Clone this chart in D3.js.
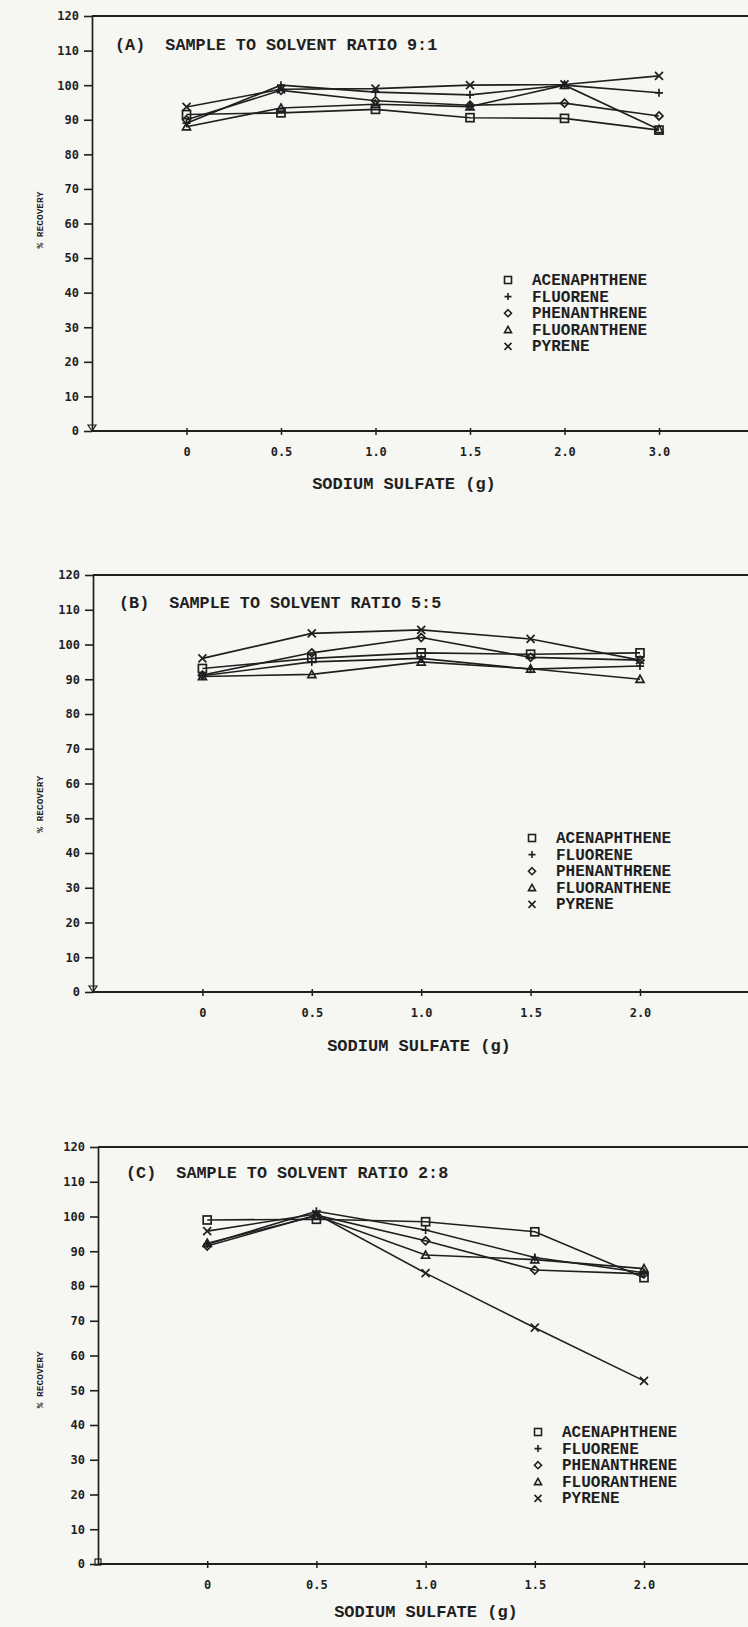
<!DOCTYPE html>
<html>
<head>
<meta charset="utf-8">
<script src="https://cdn.jsdelivr.net/npm/d3@7"></script>
<style>
body { margin: 0; background: #f6f6f3; }
svg { display: block; }
</style>
</head>
<body>
<svg id="chart" width="748" height="1627"></svg>
<script>
// compounds, in legend order, and the marker each one uses
var seriesNames = ['ACENAPHTHENE', 'FLUORENE', 'PHENANTHRENE', 'FLUORANTHENE', 'PYRENE'];
var seriesMarkers = ['square', 'plus', 'diamond', 'triangle', 'cross'];

var yTicks = [0, 10, 20, 30, 40, 50, 60, 70, 80, 90, 100, 110, 120];

// (A) sample to solvent 9:1
var ticksA = ['0', '0.5', '1.0', '1.5', '2.0', '3.0'];
var valuesA = [
    [91.5, 92.0, 93.0, 90.6, 90.4, 87.0],
    [89.0, 100.0, 98.0, 97.2, 100.0, 97.8],
    [90.0, 98.5, 95.5, 94.2, 94.8, 91.1],
    [88.0, 93.4, 94.5, 93.8, 100.0, 87.2],
    [93.7, 98.8, 99.0, 100.0, 100.2, 102.7]
];

// (B) sample to solvent 5:5
var ticksB = ['0', '0.5', '1.0', '1.5', '2.0'];
var valuesB = [
    [93.1, 96.0, 97.6, 97.2, 97.6],
    [91.0, 95.0, 96.0, 92.9, 93.8],
    [91.2, 97.6, 102.0, 96.3, 95.5],
    [90.8, 91.4, 95.0, 93.0, 90.0],
    [96.0, 103.2, 104.2, 101.6, 95.5]
];

// (C) sample to solvent 2:8
var ticksC = ['0', '0.5', '1.0', '1.5', '2.0'];
var valuesC = [
    [99.0, 99.2, 98.5, 95.6, 82.4],
    [92.0, 101.5, 96.1, 88.2, 83.8],
    [91.5, 100.4, 93.0, 84.6, 83.5],
    [92.3, 100.2, 88.9, 87.6, 85.0],
    [95.8, 100.7, 83.7, 68.0, 52.7]
];

var panels = [
    { title: '(A)  SAMPLE TO SOLVENT RATIO 9:1', ticks: ticksA, values: valuesA, origin: 'tri',
      x0: 92, x1: 659, top: 16, bottom: 431, titleX: 115, titleY: 50,
      legX: 508, legY: 280, xTitleX: 404, xTitleY: 489, yTitleAt: 61 },
    { title: '(B)  SAMPLE TO SOLVENT RATIO 5:5', ticks: ticksB, values: valuesB, origin: 'tri',
      x0: 93, x1: 640, top: 575, bottom: 992, titleX: 119, titleY: 608,
      legX: 532, legY: 838, xTitleX: 419, xTitleY: 1051, yTitleAt: 54 },
    { title: '(C)  SAMPLE TO SOLVENT RATIO 2:8', ticks: ticksC, values: valuesC, origin: 'sq',
      x0: 98, x1: 644, top: 1147, bottom: 1564, titleX: 126, titleY: 1178,
      legX: 538, legY: 1432, xTitleX: 426, xTitleY: 1617, yTitleAt: 53 }
];

var ink = '#1f1f1f';
var svg = d3.select('#chart');

var drawMarker = function (g, type, cx, cy, s) {
    var p;
    if (type == 'square') {
        g.append('rect').attr('x', cx - s).attr('y', cy - s).attr('width', 2 * s).attr('height', 2 * s);
        return;
    }
    if (type == 'plus') p = 'M' + (cx - s) + ',' + cy + 'H' + (cx + s) + 'M' + cx + ',' + (cy - s) + 'V' + (cy + s);
    if (type == 'diamond') p = 'M' + cx + ',' + (cy - s) + 'L' + (cx + s) + ',' + cy + 'L' + cx + ',' + (cy + s) + 'L' + (cx - s) + ',' + cy + 'Z';
    if (type == 'triangle') p = 'M' + cx + ',' + (cy - s) + 'L' + (cx + s) + ',' + (cy + s * 0.8) + 'L' + (cx - s) + ',' + (cy + s * 0.8) + 'Z';
    if (type == 'cross') p = 'M' + (cx - s) + ',' + (cy - s) + 'L' + (cx + s) + ',' + (cy + s) + 'M' + (cx + s) + ',' + (cy - s) + 'L' + (cx - s) + ',' + (cy + s);
    g.append('path').attr('d', p);
}

panels.forEach(function (pn) {
    var n = pn.ticks.length;
    var x = d3.scaleLinear().domain([-1, n - 1]).range([pn.x0, pn.x1]);
    var y = d3.scaleLinear().domain([0, 120]).range([pn.bottom, pn.top]);
    var g = svg.append('g');

    // y axis
    var ya = g.append('g').attr('transform', 'translate(' + pn.x0 + ',0)')
        .call(d3.axisLeft(y).tickValues(yTicks).tickSize(8).tickSizeOuter(0).tickPadding(5));
    ya.select('.domain').attr('stroke', ink).attr('stroke-width', 1.7);
    ya.selectAll('.tick line').attr('stroke', ink).attr('stroke-width', 1.6);
    ya.selectAll('text').attr('fill', ink).attr('font-family', '"DejaVu Sans Mono", monospace')
        .attr('font-weight', 'bold').attr('font-size', 12);

    // x axis
    var xa = g.append('g').attr('transform', 'translate(0,' + pn.bottom + ')')
        .call(d3.axisBottom(x).tickValues(d3.range(n)).tickFormat(function (i) { return pn.ticks[i]; })
            .tickSize(4).tickPadding(12));
    xa.select('.domain').remove();
    xa.selectAll('.tick line').attr('stroke', ink).attr('stroke-width', 1.5).attr('y1', -3);
    xa.selectAll('text').attr('fill', ink).attr('font-family', '"DejaVu Sans Mono", monospace')
        .attr('font-weight', 'bold').attr('font-size', 12);

    // frame lines run off the right edge of the page
    g.append('line').attr('x1', pn.x0).attr('x2', 748).attr('y1', y(0)).attr('y2', y(0))
        .attr('stroke', ink).attr('stroke-width', 1.9);
    g.append('line').attr('x1', pn.x0).attr('x2', 748).attr('y1', y(120)).attr('y2', y(120))
        .attr('stroke', ink).attr('stroke-width', 1.9);

    // little mark at the origin
    var om = g.append('g').attr('fill', 'none').attr('stroke', ink).attr('stroke-width', 1.2);
    if (pn.origin == 'tri') {
        om.append('path').attr('d', 'M' + (pn.x0 - 4) + ',' + (y(0) - 6) + 'H' + (pn.x0 + 4) + 'L' + pn.x0 + ',' + y(0) + 'Z');
    } else {
        drawMarker(om, 'square', pn.x0, y(0) - 2, 3);
    }

    // series
    var line = d3.line().x(function (d, i) { return x(i); }).y(function (d) { return y(d); });
    pn.values.forEach(function (vals, k) {
        g.append('path').datum(vals).attr('d', line)
            .attr('fill', 'none').attr('stroke', ink).attr('stroke-width', 1.6);
        var mg = g.append('g').attr('fill', 'none').attr('stroke', ink).attr('stroke-width', 1.7);
        vals.forEach(function (v, i) { drawMarker(mg, seriesMarkers[k], x(i), y(v), 4); });
    });

    // panel title
    g.append('text').attr('x', pn.titleX).attr('y', pn.titleY).text(pn.title)
        .attr('xml:space', 'preserve').style('white-space', 'pre')
        .attr('font-family', '"Liberation Mono", monospace').attr('font-weight', 'bold')
        .attr('font-size', 16.8).attr('fill', ink);

    // legend
    var lg = g.append('g');
    seriesNames.forEach(function (name, k) {
        var ly = pn.legY + k * 16.6;
        var mg = lg.append('g').attr('fill', 'none').attr('stroke', ink).attr('stroke-width', 1.6);
        drawMarker(mg, seriesMarkers[k], pn.legX, ly, 3.5);
        lg.append('text').attr('x', pn.legX + 24).attr('y', ly + 5).text(name)
            .attr('font-family', '"Liberation Mono", monospace').attr('font-weight', 'bold')
            .attr('font-size', 16).attr('fill', ink);
    });

    // axis titles
    g.append('text').attr('x', pn.xTitleX).attr('y', pn.xTitleY).attr('text-anchor', 'middle')
        .text('SODIUM SULFATE (g)')
        .attr('font-family', '"Liberation Mono", monospace').attr('font-weight', 'bold')
        .attr('font-size', 17).attr('fill', ink);
    g.append('text')
        .attr('transform', 'translate(40,' + y(pn.yTitleAt) + ') rotate(-90)')
        .attr('text-anchor', 'middle').attr('dy', '0.35em').text('% RECOVERY')
        .attr('font-family', '"Liberation Mono", monospace').attr('font-weight', 'bold')
        .attr('font-size', 9.5).attr('fill', ink);
});
</script>
</body>
</html>
